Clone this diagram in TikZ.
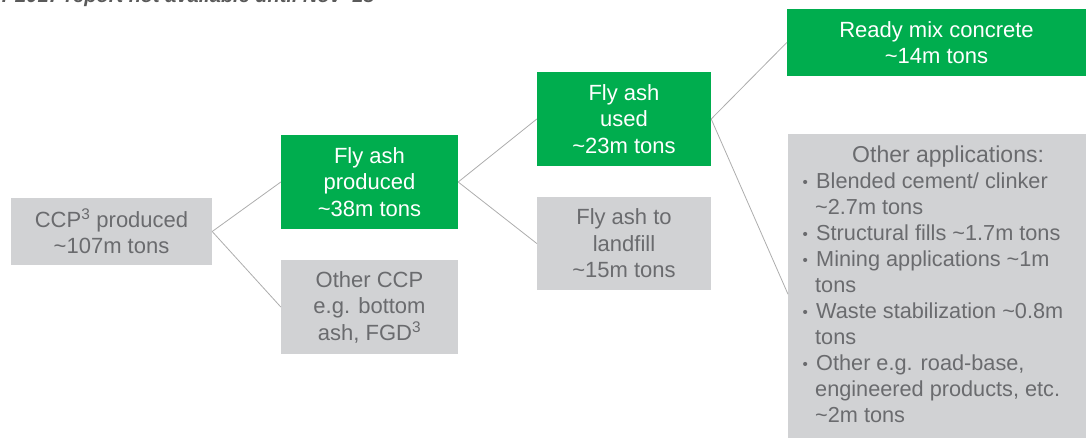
\documentclass[tikz,border=0pt]{standalone}
\usepackage{fontspec}
\setmainfont{Liberation Sans}
\definecolor{bgreen}{HTML}{00AD4E}
\definecolor{bgray}{HTML}{D1D2D4}
\definecolor{tgray}{HTML}{6A6B6E}
\definecolor{lgray}{HTML}{ADADAD}
\definecolor{hgray}{HTML}{5A5A5A}
\newcommand{\bulx}{\makebox[14pt][l]{\hspace*{0.5pt}\raisebox{1pt}{\scalebox{0.7}{\textbullet}}}}
\newcommand{\indx}{\hspace*{13pt}}
\begin{document}
\begin{tikzpicture}[x=1pt,y=-1pt,
  box/.style={rectangle, inner sep=0pt, align=center, font=\fontsize{22}{26.5}\selectfont},
  greenbox/.style={box, fill=bgreen, text=white},
  graybox/.style={box, fill=bgray, text=tgray},
  conn/.style={draw=lgray, line width=0.8pt}]
\clip (0,0) rectangle (1086,437);
\useasboundingbox (0,0) rectangle (1086,437);
% header (cut off at top in the reference)
\node[anchor=base west, inner sep=0pt, text=hgray, font=\fontsize{20}{24}\selectfont\bfseries\itshape] (hdr) at (-10,2.5) {s: 2017 report not available until Nov '18};
% boxes
\node[graybox, minimum width=201pt, minimum height=67pt] (ccp) at (111.5,231.5) {CCP\textsuperscript{3} produced\\\textasciitilde107m tons};
\node[greenbox, minimum width=177pt, minimum height=94pt] (prod) at (369.5,182) {Fly ash\\produced\\\textasciitilde38m tons};
\node[graybox, minimum width=177pt, minimum height=94pt] (occp) at (369.5,307) {Other CCP\\e.g. bottom\\ash, FGD\textsuperscript{3}};
\node[greenbox, minimum width=174pt, minimum height=94pt] (used) at (624,119) {Fly ash\\used\\\textasciitilde23m tons};
\node[graybox, minimum width=174pt, minimum height=93pt] (land) at (624,243.5) {Fly ash to\\landfill\\\textasciitilde15m tons};
\node[greenbox, minimum width=299pt, minimum height=67pt] (ready) at (936.5,42.5) {Ready mix concrete\\\textasciitilde14m tons};
\node[graybox, minimum width=298pt, minimum height=320pt, anchor=north west] (apps) at (788,134) {};
\node[anchor=north west, inner sep=0pt, text=tgray, align=left, font=\fontsize{21.7}{26}\selectfont] (appstext) at (802,146) {%
\hspace*{50pt}{\fontsize{23}{26}\selectfont Other applications:}\\
\bulx Blended cement/ clinker\\
\indx\textasciitilde2.7m tons\\
\bulx Structural fills \textasciitilde1.7m tons\\
\bulx Mining applications \textasciitilde1m\\
\indx tons\\
\bulx Waste stabilization \textasciitilde0.8m\\
\indx tons\\
\bulx Other e.g. road-base,\\
\indx engineered products, etc.\\
\indx\textasciitilde2m tons};
% connectors
\draw[conn] (ccp.east) -- (prod.west);
\draw[conn] (ccp.east) -- (occp.west);
\draw[conn] (prod.east) -- (used.west);
\draw[conn] (prod.east) -- (land.west);
\draw[conn] (used.east) -- (ready.west);
\draw[conn] (used.east) -- (apps.west);
\end{tikzpicture}
\end{document}
